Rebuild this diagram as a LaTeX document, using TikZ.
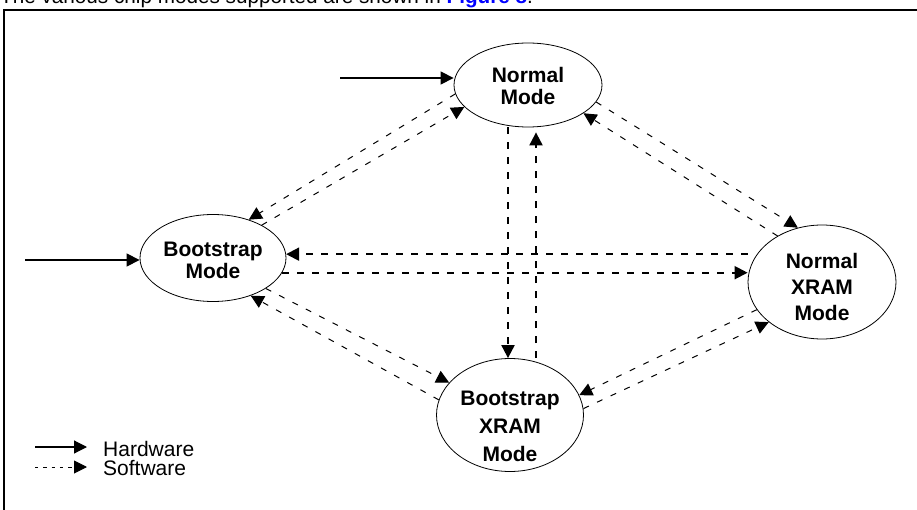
\documentclass[tikz,border=0pt]{standalone}
\usepackage{fontspec}
\setmainfont{Liberation Sans}
\usetikzlibrary{arrows.meta,shapes.geometric,calc}
% #1 height above first baseline, #2 depth below it, #3 lines
\newcommand\modetext[3]{\raisebox{0pt}[#1][#2]{\begin{tabular}[t]{@{}c@{}}#3\end{tabular}}}
\begin{document}
\begin{tikzpicture}[x=1pt,y=-1pt,
  mode/.style={ellipse,draw,line width=0.8pt,inner sep=0pt},
  tip/.style={-{Triangle[length=13pt,width=13pt]}},
  hw/.style={tip,line width=1.2pt},
  sw/.style={tip,line width=1pt,dash pattern=on 6pt off 9pt},
  swb/.style={tip,line width=2pt,dash pattern=on 7pt off 8pt},
  legtext/.style={anchor=base west,inner sep=0pt,font=\fontsize{21}{21}\selectfont},
]
\useasboundingbox (0,0) rectangle (917,510);

% caption (cut off at the top)
\node[anchor=base west,inner sep=0pt,font=\fontsize{20.7}{21}\selectfont] (cap) at (0,3.5)
  {The various chip modes supported are shown in \textcolor{blue}{\textbf{Figure 8}}.};

% frame
\draw[line width=1.3pt] (4,530) -- (4,10) -- (940,10);

% modes
\node[mode,minimum width=148pt,minimum height=84pt,font=\bfseries\fontsize{21}{21.7}\selectfont]
  (norm) at (528,85) {\modetext{15pt}{19pt}{Normal\\Mode}};
\node[mode,minimum width=146pt,minimum height=87pt,font=\bfseries\fontsize{21}{20.5}\selectfont]
  (boot) at (213,258) {\modetext{15pt}{17.6pt}{Bootstrap\\Mode}};
\node[mode,minimum width=148pt,minimum height=114pt,font=\bfseries\fontsize{21}{26}\selectfont]
  (nx) at (822,282) {\modetext{15pt}{42.4pt}{Normal\\XRAM\\Mode}};
\node[mode,minimum width=147pt,minimum height=113pt,font=\bfseries\fontsize{21}{28}\selectfont]
  (bx) at (510,415) {\modetext{15pt}{35pt}{Bootstrap\\XRAM\\Mode}};

% hardware entries
\coordinate (h1) at (340,78);
\draw[hw] (h1) -- (h1 -| norm.west);
\coordinate (h2) at (25,260);
\draw[hw] (h2) -- (h2 -| boot.west);

% Normal <-> Bootstrap
\draw[sw] (norm.187) -- (boot.47);
\draw[sw] (boot.34) -- (norm.199);
% Normal <-> Normal XRAM
\draw[sw] (norm.346) -- (nx.114);
\draw[sw] (nx.134) -- (norm.333);
% Bootstrap <-> Normal XRAM
\draw[swb] (boot.3 -| nx.west) -- (boot.3);
\draw[swb] (boot.-12) -- (boot.-12 -| nx.west);
% Normal <-> Bootstrap XRAM
\draw[swb] ([xshift=-20pt]norm.south) -- ([xshift=-20pt]norm.south |- bx.north);
\draw[swb,shorten >=5pt] ([xshift=8pt]norm.south |- bx.north) -- ([xshift=8pt]norm.south);
% Bootstrap <-> Bootstrap XRAM
\draw[sw] (boot.-30) -- (bx.152);
\draw[sw] (bx.168) -- (boot.-45);
% Bootstrap XRAM <-> Normal XRAM
\draw[sw] (nx.203) -- (bx.16);
\draw[sw] (bx.5) -- (nx.217);

% legend
\coordinate (l1) at (35,447);
\coordinate (l1e) at (87,447);
\draw[hw] (l1) -- (l1e);
\coordinate (l2) at (35,467);
\coordinate (l2e) at (87,467);
\draw[tip,line width=1pt,dash pattern=on 3.3pt off 5pt] (l2) -- (l2e);
\node[legtext] (lhw) at (103,456) {Hardware};
\node[legtext] (lsw) at (103,475) {Software};
\end{tikzpicture}
\end{document}
